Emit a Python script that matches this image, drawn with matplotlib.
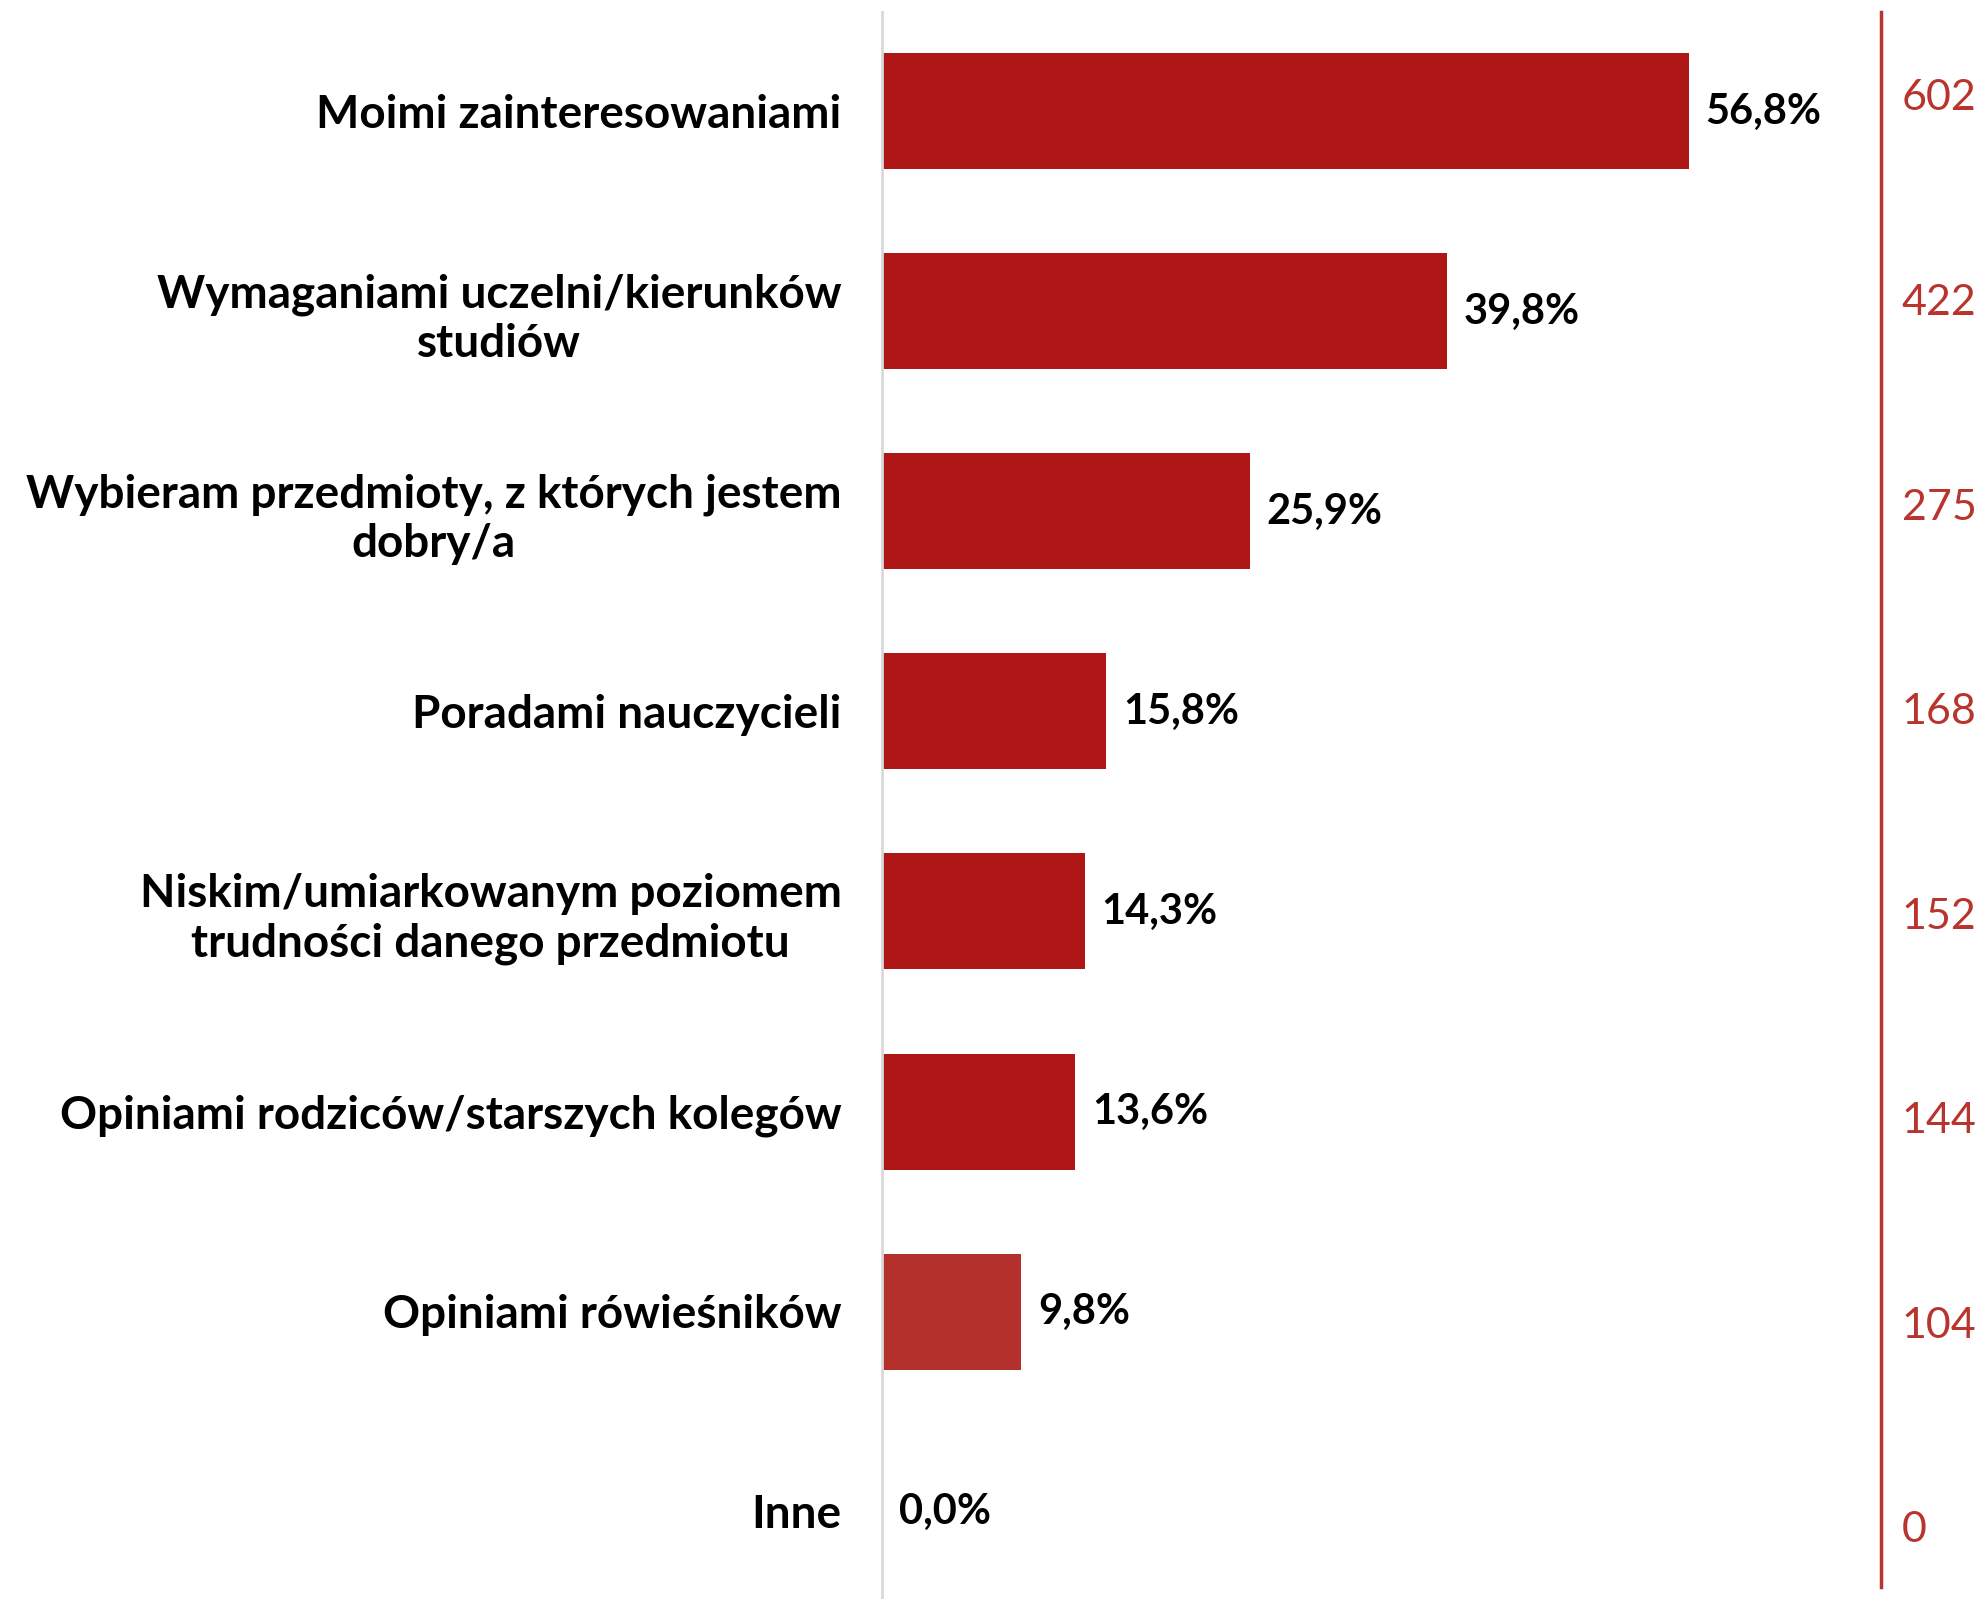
import matplotlib.pyplot as plt

categories = [
    'Moimi zainteresowaniami',
    'Wymaganiami uczelni/kierunków\nstudiów',
    'Wybieram przedmioty, z których jestem\ndobry/a',
    'Poradami nauczycieli',
    'Niskim/umiarkowanym poziomem\ntrudności danego przedmiotu',
    'Opiniami rodziców/starszych kolegów',
    'Opiniami rówieśników',
    'Inne',
]
percent = [56.8, 39.8, 25.9, 15.8, 14.3, 13.6, 9.8, 0.0]
counts = [602, 422, 275, 168, 152, 144, 104, 0]

dark_red = '#AF1616'
light_red = '#B3302C'
axis_red = '#B8342C'
bar_colors = [dark_red] * 6 + [light_red, light_red]

plt.rcParams['font.family'] = ['Lato', 'DejaVu Sans']

fig = plt.figure(figsize=(19.79, 15.99), dpi=100)
ax = fig.add_axes([882 / 1979, 0.0, (1881 - 882) / 1979, 1 - 12 / 1599])

pos = list(range(len(categories)))
bars = ax.barh(pos, percent, height=0.58, color=bar_colors)
ax.set_ylim(7.4375, -0.4975)
ax.set_xlim(0, 999 / 14.2)

ax.set_yticks(pos)
ax.set_yticklabels(categories, fontsize=33, fontweight='bold')
for lbl in ax.get_yticklabels():
    lbl.set_multialignment('center')
    lbl.set_linespacing(1.22)
ax.tick_params(axis='y', length=0, pad=29)
ax.set_xticks([])

for s in ['top', 'right', 'bottom']:
    ax.spines[s].set_visible(False)
ax.spines['left'].set_color('#D9D9D9')
ax.spines['left'].set_linewidth(2)

ax.bar_label(bars, labels=[('%.1f%%' % v).replace('.', ',') for v in percent],
             padding=12, fontsize=30, fontweight='bold', color='black')

# right axis with counts
ax2 = ax.twinx()
ax2.set_ylim(7.352, -0.4057)
ax2.set_yticks(pos)
ax2.set_yticklabels([str(c) for c in counts], fontsize=31, fontweight='normal',
                    color=axis_red)
ax2.tick_params(axis='y', length=0, pad=15)
for s in ['top', 'left', 'bottom']:
    ax2.spines[s].set_visible(False)
ax2.spines['right'].set_color(axis_red)
ax2.spines['right'].set_linewidth(2.5)
ax2.spines['right'].set_bounds(7.293, -0.4057)

fig.savefig('out.png', dpi=100)
